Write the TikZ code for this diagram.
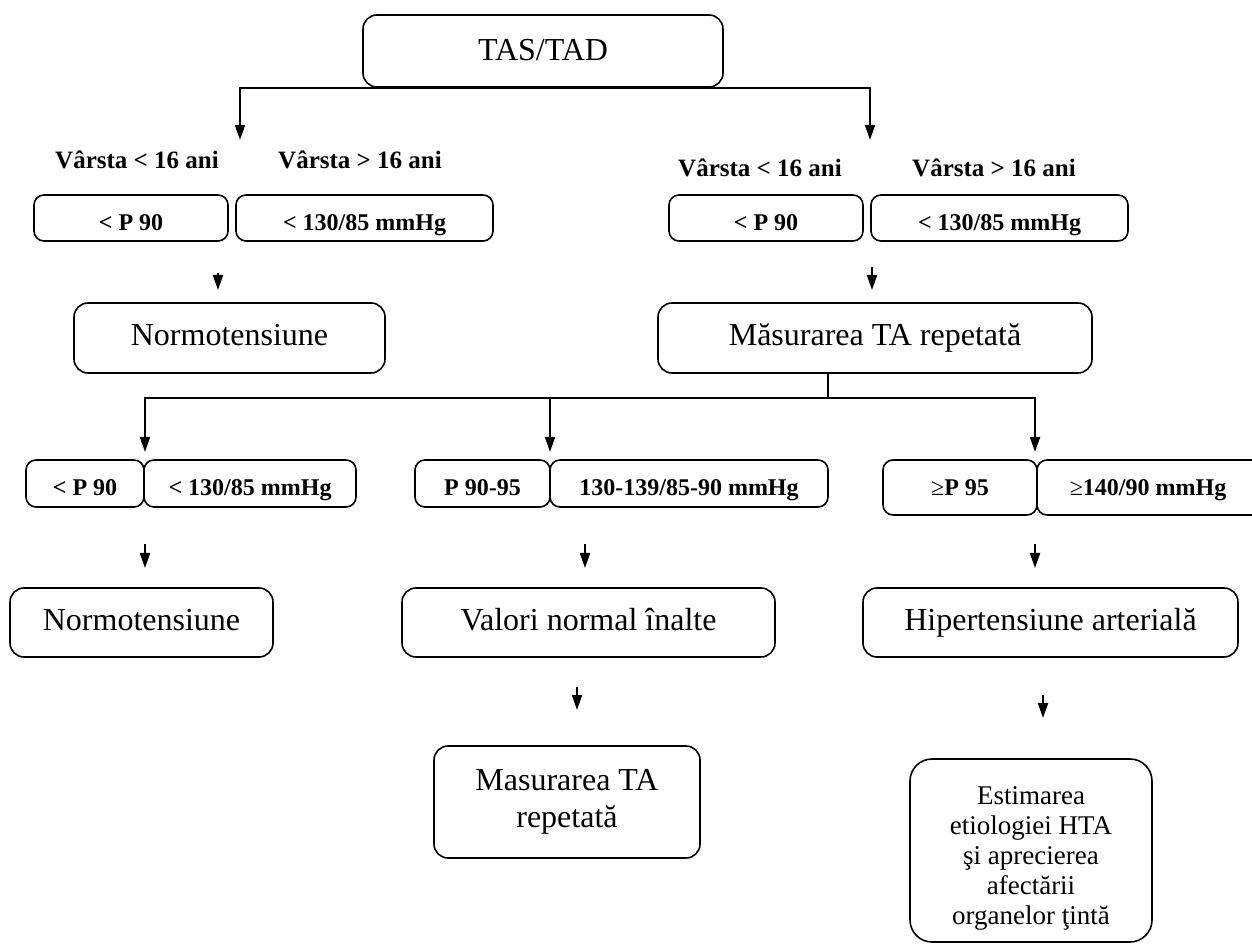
\documentclass[tikz,border=0pt]{standalone}
\usepackage{fontspec}
\setmainfont{Liberation Serif}
\usetikzlibrary{arrows.meta}
\newcommand\bigf{\fontsize{16}{18.5}\selectfont}
\newcommand\smf{\fontsize{12}{14}\selectfont\bfseries}
\newcommand\lblf{\fontsize{12.5}{14}\selectfont\bfseries}
\newcommand\estf{\fontsize{13.5}{15}\selectfont}
\tikzset{
  box/.style={draw, line width=0.8pt, rounded corners=7pt, inner sep=0pt, align=center, font=\bigf},
  oneline/.style={text height=8pt, text depth=0pt},
  sbox/.style={draw, line width=0.8pt, rounded corners=5pt, inner sep=0pt, font=\smf, text height=13pt, text depth=0pt},
  lbl/.style={inner sep=0pt, font=\lblf},
  conn/.style={line width=1pt},
  arr/.style={conn, -{Triangle[length=7.5pt,width=5pt]}}
}
\begin{document}
\begin{tikzpicture}[x=0.5pt,y=-0.5pt]
\useasboundingbox (0,0) rectangle (1252,945);
\clip (0,0) rectangle (1252,945);
% top
\node[box, oneline, text height=10pt, minimum width=180pt, minimum height=36pt] (tas) at (543,51) {TAS/TAD};
\coordinate (a1) at (240,140);
\coordinate (a2) at (870,140);
\draw[arr] (tas.south) -| (a1);
\draw[arr] (tas.south) -| (a2);
% labels
\node[lbl] (l1) at (137,160) {Vârsta < 16 ani};
\node[lbl] (l2) at (360,160) {Vârsta > 16 ani};
\node[lbl] (r1) at (760,168) {Vârsta < 16 ani};
\node[lbl] (r2) at (994,168) {Vârsta > 16 ani};
% row 2 boxes
\node[sbox, minimum width=97pt, minimum height=23pt] (b1) at (131,218) {< P 90};
\node[sbox, minimum width=128.5pt, minimum height=23pt] (b2) at (364.5,218) {< 130/85 mmHg};
\node[sbox, minimum width=97pt, minimum height=23pt] (b3) at (766,218) {< P 90};
\node[sbox, minimum width=128.5pt, minimum height=23pt] (b4) at (999.5,218) {< 130/85 mmHg};
% small arrows
\coordinate (s1a) at (218,273); \coordinate (s1b) at (218,290);
\coordinate (s2a) at (872,267); \coordinate (s2b) at (872,290);
\draw[arr] (s1a) -- (s1b);
\draw[arr] (s2a) -- (s2b);
% row 2 results
\node[box, oneline, minimum width=155.5pt, minimum height=35pt] (n1) at (229.5,338) {Normotensiune};
\node[box, oneline, minimum width=217pt, minimum height=35pt] (mas) at (875,338) {Măsurarea TA repetată};
% branching
\coordinate (j) at (828,398);
\coordinate (t1) at (145,452);
\coordinate (t2) at (550,452);
\coordinate (t3) at (1035,452);
\draw[conn] (mas.south -| j) -- (j);
\draw[arr] (j) -| (t1);
\draw[arr] (j) -| (t2);
\draw[arr] (j) -| (t3);
% row 3 boxes
\node[sbox, text height=12pt, minimum width=59pt, minimum height=23.5pt] (c1) at (85,483.5) {< P 90};
\node[sbox, text height=12pt, minimum width=106pt, minimum height=23.5pt] (c2) at (250,483.5) {< 130/85 mmHg};
\node[sbox, text height=12pt, minimum width=67.5pt, minimum height=23.5pt] (c3) at (482.5,483.5) {P 90-95};
\node[sbox, text height=12pt, minimum width=139pt, minimum height=23.5pt] (c4) at (689,483.5) {130-139/85-90 mmHg};
\node[sbox, text height=8pt, minimum width=77pt, minimum height=27.5pt] (c5) at (960,487.5) {{\mdseries ≥}P 95};
\node[sbox, text height=8pt, minimum width=119pt, minimum height=27.5pt] (c6) at (1156,487.5) {\hspace*{-8pt}{\mdseries ≥}140/90 mmHg};
% small arrows row 4
\coordinate (u1a) at (145,544); \coordinate (u1b) at (145,568);
\coordinate (u2a) at (585,544); \coordinate (u2b) at (585,568);
\coordinate (u3a) at (1035,544); \coordinate (u3b) at (1035,568);
\draw[arr] (u1a) -- (u1b);
\draw[arr] (u2a) -- (u2b);
\draw[arr] (u3a) -- (u3b);
% row 4 boxes
\node[box, oneline, minimum width=131.5pt, minimum height=34.5pt] (d1) at (141.5,622.5) {Normotensiune};
\node[box, oneline, minimum width=186.5pt, minimum height=34.5pt] (d2) at (588.5,622.5) {Valori normal înalte};
\node[box, oneline, minimum width=187.5pt, minimum height=34.5pt] (d3) at (1050.5,622.5) {Hipertensiune arterială};
% small arrows row 5
\coordinate (v1a) at (577,687); \coordinate (v1b) at (577,710);
\coordinate (v2a) at (1043,695); \coordinate (v2b) at (1043,718);
\draw[arr] (v1a) -- (v1b);
\draw[arr] (v2a) -- (v2b);
% row 5 boxes
\node[box, minimum width=133pt, minimum height=56pt] (e1) at (567,802) {Masurarea TA\\repetată};
\node[box, rounded corners=11pt, font=\estf, minimum width=121pt, minimum height=91.5pt] (e2) at (1031,850.5)
  {\raisebox{-4pt}[\height][\depth]{\begin{tabular}{@{}c@{}}Estimarea\\etiologiei HTA\\şi aprecierea\\afectării\\organelor ţintă\end{tabular}}};
\end{tikzpicture}
\end{document}
